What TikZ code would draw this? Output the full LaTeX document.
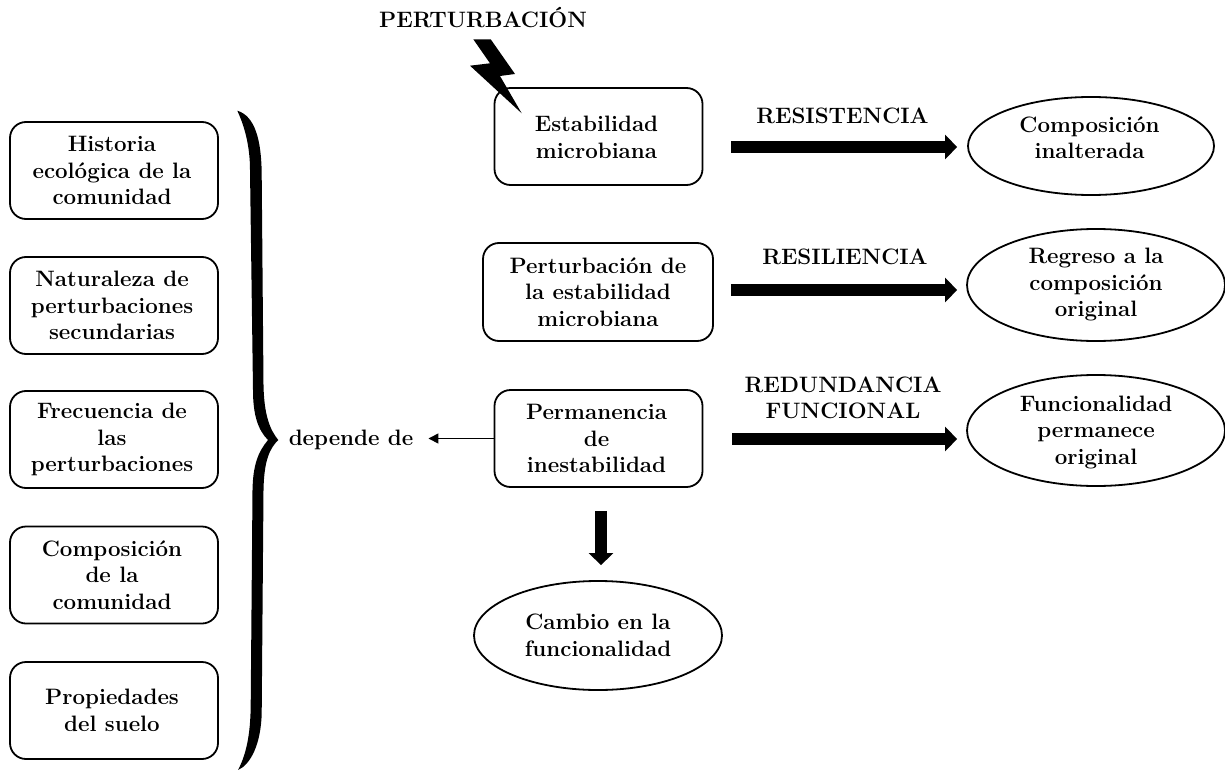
\documentclass[tikz,border=0pt]{standalone}
\usetikzlibrary{arrows.meta,shapes.geometric}
\tikzset{
  x=1pt,y=-1pt,
  txt/.style={font=\fontsize{22.3}{26.5}\selectfont\bfseries,align=center,inner sep=0pt,text=black},
  rbox/.style={draw=black,line width=1.8pt,rounded corners=16pt,minimum width=208pt,minimum height=97pt,inner sep=0pt},
  oval/.style={draw=black,line width=1.8pt,ellipse,minimum width=246pt,minimum height=98pt,inner sep=0pt},
  boxtxt/.style={label={[txt,xshift=-2pt]center:{#1}}},
  bigarrow/.style={line width=12.5pt,-{Triangle[length=12pt,width=24pt]}},
  lbl/.style={txt}
}
\begin{document}
\begin{tikzpicture}
\useasboundingbox (0,0) rectangle (1225,770);
\node[rbox,boxtxt={Historia\\ecológica de la\\comunidad}] (h1) at (114,170.5) {};
\node[rbox,boxtxt={Naturaleza de\\perturbaciones\\secundarias}] (h2) at (114,305.5) {};
\node[rbox,boxtxt={Frecuencia de\\las\\perturbaciones}] (h3) at (114,439.5) {};
\node[rbox,boxtxt={Composición\\de la\\comunidad}] (h4) at (114,575) {};
\node[rbox,boxtxt={Propiedades\\del suelo}] (h5) at (114,710.5) {};
\node[rbox,label={[txt,xshift=-2pt,yshift=-1pt]center:{Estabilidad\\microbiana}}] (est) at (598.5,136.5) {};
\node[rbox,minimum width=230pt,minimum height=98pt,label={[txt]center:{Perturbación de\\la estabilidad\\microbiana}}] (per) at (598,292) {};
\node[rbox,boxtxt={Permanencia\\de\\inestabilidad}] (perm) at (598.5,438.5) {};
\node[oval,label={[txt,xshift=-1.5pt,yshift=8.5pt]center:{Composición\\inalterada}}] (c1) at (1091,146) {};
\node[oval,minimum width=258pt,minimum height=112pt,label={[txt]center:{Regreso a la\\composición\\original}}] (c2) at (1096,285) {};
\node[oval,minimum width=258pt,minimum height=111pt,label={[txt,yshift=-1.5pt]center:{Funcionalidad\\permanece\\original}}] (c3) at (1096,430.5) {};
\node[oval,minimum width=248pt,minimum height=109pt,label={[txt]center:{Cambio en la\\funcionalidad}}] (c4) at (598,635.5) {};
\node[lbl] (pt) at (483,17.5) {PERTURBACIÓN};
\node[lbl] (l1) at (842.5,116) {RESISTENCIA};
\node[lbl] (l2) at (845,257) {RESILIENCIA};
\node[lbl] (l3) at (843,398) {REDUNDANCIA\\FUNCIONAL};
\node[lbl] (dep) at (351,440) {depende de};
\draw[bigarrow,shorten <=28pt,shorten >=10pt] (est.east |- 0,147) -- (c1.west |- 0,147);
\draw[bigarrow,shorten <=17pt,shorten >=9pt] (per.east |- 0,290) -- (c2.west |- 0,290);
\draw[bigarrow,shorten <=29pt,shorten >=9pt] (perm.east |- 0,439) -- (c3.west |- 0,439);
\draw[bigarrow,shorten <=23pt,shorten >=15pt] (perm.south -| 601,0) -- (c4.north -| 601,0);
\draw[line width=1.5pt,-{Triangle[length=10pt,width=10pt]},shorten >=15pt] (perm.west) -- (dep.east |- perm.west);
\fill (473.3,39.3) -- (490.7,39.3) -- (515,74) -- (500,76) -- (521.7,113.3) -- (470,65.7) -- (490,63.3) -- cycle;
\fill (237.3,110.7) .. controls (255,116) and (261.5,140) .. (261.7,175)
  -- (263.5,385) .. controls (264,415) and (270,430) .. (278.3,440)
  .. controls (270,448) and (264,460) .. (263.5,490)
  -- (261.7,713) .. controls (261,745) and (250,765) .. (238,770)
  .. controls (246,755) and (250.5,735) .. (250.7,705)
  -- (252.5,490) .. controls (253,465) and (258,452) .. (268,440)
  .. controls (258,430) and (253,415) .. (253,390)
  -- (250,170) .. controls (250,145) and (244,125) .. cycle;
\end{tikzpicture}
\end{document}
